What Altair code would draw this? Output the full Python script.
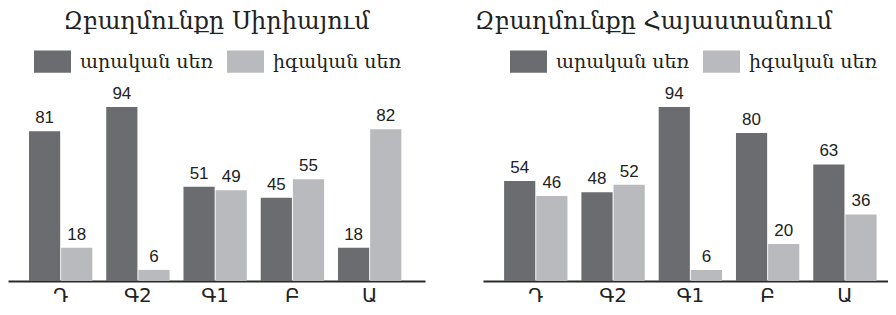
import altair as alt
import pandas as pd

categories = ["Դ", "Գ2", "Գ1", "Բ", "Ա"]
series = ["արական սեռ", "իգական սեռ"]
syria_male = [81, 94, 51, 45, 18]
syria_female = [18, 6, 49, 55, 82]
armenia_male = [54, 48, 94, 80, 63]
armenia_female = [46, 52, 6, 20, 36]
titles = ["Զբաղմունքը Սիրիայում", "Զբաղմունքը Հայաստանում"]

colors = ["#6b6c70", "#b9babd"]
RECT = "M-1,-0.6H1V0.6H-1Z"


def make_df(male, female):
    rows = []
    for c, m, f in zip(categories, male, female):
        rows.append({"cat": c, "sex": series[0], "val": m})
        rows.append({"cat": c, "sex": series[1], "val": f})
    return pd.DataFrame(rows)


def panel(title, male, female, width, pad_outer, align, title_dx, legend_x):
    df = make_df(male, female)
    x = alt.X(
        "cat:N",
        sort=categories,
        scale=alt.Scale(paddingInner=0.18, paddingOuter=pad_outer, align=align),
        axis=alt.Axis(
            title=None,
            labelAngle=0,
            ticks=False,
            grid=False,
            domainColor="#2a2a2a",
            domainWidth=2,
            labelFont="DejaVu Sans",
            labelFontSize=20,
            labelColor="#222222",
            labelPadding=4,
        ),
    )
    xo = alt.XOffset("sex:N", sort=series, scale=alt.Scale(paddingInner=0.03))
    y = alt.Y("val:Q", scale=alt.Scale(domain=[0, 100]), axis=None)
    color = alt.Color(
        "sex:N",
        sort=series,
        scale=alt.Scale(domain=series, range=colors),
        legend=alt.Legend(
            title=None,
            orient="none",
            legendX=legend_x,
            legendY=-53,
            direction="horizontal",
            symbolType=RECT,
            symbolSize=1369,
            symbolStrokeWidth=0,
            symbolOpacity=1,
            labelFont="DejaVu Serif",
            labelFontSize=19,
            labelColor="#222222",
            labelOffset=9,
            columnPadding=13,
        ),
    )
    bars = alt.Chart(df).mark_bar().encode(x=x, xOffset=xo, y=y, color=color)
    labels = alt.Chart(df).mark_text(
        dy=-4, baseline="bottom", font="Liberation Sans", fontSize=17, color="#222222"
    ).encode(x=x, xOffset=xo, y=y, text="val:Q")
    return alt.layer(bars, labels).properties(
        width=width,
        height=185,
        title=alt.TitleParams(
            text=title,
            font="DejaVu Serif",
            fontSize=24,
            fontWeight="normal",
            color="#222222",
            anchor="middle",
            offset=9,
            dx=title_dx,
        ),
    )


left = panel(titles[0], syria_male, syria_female, 417, 0.289, 0.47, 0, 26)
right = panel(titles[1], armenia_male, armenia_female, 405, 0.21, 0.65, -32, 27)

chart = (
    alt.hconcat(left, right, spacing=49)
    .resolve_scale(x="independent", color="independent")
    .resolve_legend(color="independent")
    .configure_view(stroke=None)
    .properties(padding={"left": 0, "top": 2, "right": 0, "bottom": 0}, background="white")
)

chart.save("out.html", embed_options={"renderer": "svg", "actions": False})
